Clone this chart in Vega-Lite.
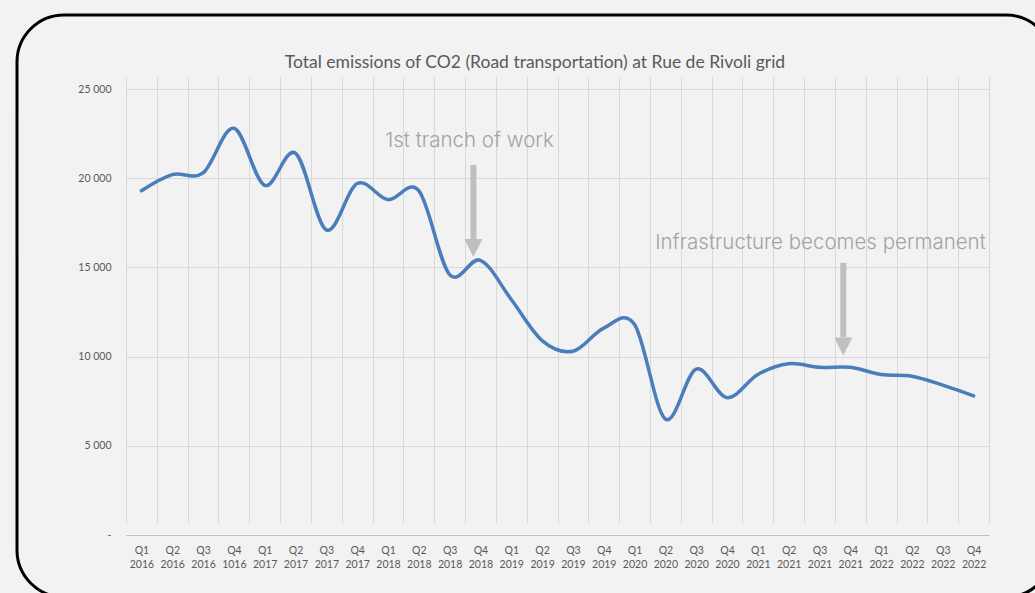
{
  "$schema": "https://vega.github.io/schema/vega-lite/v6.json",
  "width": 1036,
  "height": 582,
  "autosize": "none",
  "padding": {"left": 17, "top": 15, "right": 0, "bottom": 0},
  "background": "#f2f2f2",
  "config": {
    "view": {"stroke": "#000000", "strokeWidth": 3, "cornerRadius": 47, "fill": "#f2f2f2"},
    "font": "Lato"
  },
  "title": {
    "text": "Total emissions of CO2 (Road transportation) at Rue de Rivoli grid",
    "font": "Lato",
    "fontSize": 17.5,
    "fontWeight": "normal",
    "color": "#595959",
    "anchor": "middle",
    "baseline": "middle",
    "offset": -65
  },
  "layer": [
    {
      "data": {
        "values": [
          {"q": "Q1 2016", "v": 19300},
          {"q": "Q2 2016", "v": 20200},
          {"q": "Q3 2016", "v": 20300},
          {"q": "Q4 1016", "v": 22800},
          {"q": "Q1 2017", "v": 19600},
          {"q": "Q2 2017", "v": 21400},
          {"q": "Q3 2017", "v": 17100},
          {"q": "Q4 2017", "v": 19700},
          {"q": "Q1 2018", "v": 18800},
          {"q": "Q2 2018", "v": 19300},
          {"q": "Q3 2018", "v": 14600},
          {"q": "Q4 2018", "v": 15400},
          {"q": "Q1 2019", "v": 13200},
          {"q": "Q2 2019", "v": 10900},
          {"q": "Q3 2019", "v": 10300},
          {"q": "Q4 2019", "v": 11600},
          {"q": "Q1 2020", "v": 11800},
          {"q": "Q2 2020", "v": 6500},
          {"q": "Q3 2020", "v": 9300},
          {"q": "Q4 2020", "v": 7700},
          {"q": "Q1 2021", "v": 9000},
          {"q": "Q2 2021", "v": 9600},
          {"q": "Q3 2021", "v": 9400},
          {"q": "Q4 2021", "v": 9400},
          {"q": "Q1 2022", "v": 9000},
          {"q": "Q2 2022", "v": 8900},
          {"q": "Q3 2022", "v": 8400},
          {"q": "Q4 2022", "v": 7800}
        ]
      },
      "mark": {"type": "line", "interpolate": "cardinal", "strokeWidth": 3.5, "color": "#4a7ebb", "strokeCap": "round"},
      "encoding": {
        "x": {
          "field": "q",
          "type": "ordinal",
          "sort": null,
          "scale": {
            "type": "band",
            "paddingInner": 0,
            "paddingOuter": 0,
            "range": [109, 972],
            "domain": ["Q1 2016","Q2 2016","Q3 2016","Q4 1016","Q1 2017","Q2 2017","Q3 2017","Q4 2017","Q1 2018","Q2 2018","Q3 2018","Q4 2018","Q1 2019","Q2 2019","Q3 2019","Q4 2019","Q1 2020","Q2 2020","Q3 2020","Q4 2020","Q1 2021","Q2 2021","Q3 2021","Q4 2021","Q1 2022","Q2 2022","Q3 2022","Q4 2022"]
          },
          "axis": {
            "orient": "bottom",
            "offset": -62,
            "title": null,
            "domainColor": "#bfbfbf",
            "domainWidth": 1,
            "ticks": false,
            "tickBand": "extent",
            "grid": true,
            "gridColor": "#d9d9d9",
            "gridWidth": 1,
            "labelAngle": 0,
            "labelExpr": "split(datum.label, ' ')",
            "labelPadding": 10,
            "labelLineHeight": 14,
            "labelFont": "Lato",
            "labelFontSize": 10.5,
            "labelColor": "#595959",
            "labelBaseline": "top"
          }
        },
        "y": {
          "field": "v",
          "type": "quantitative",
          "scale": {"domain": [0, 25000], "range": [520, 74], "nice": false, "zero": true},
          "axis": {
            "orient": "left",
            "offset": -109,
            "title": null,
            "domain": false,
            "ticks": false,
            "values": [0, 5000, 10000, 15000, 20000, 25000],
            "grid": true,
            "gridColor": "#d9d9d9",
            "gridWidth": 1,
            "labelPadding": 15,
            "labelFont": "Lato",
            "labelFontSize": 10.5,
            "labelColor": "#595959",
            "labelExpr": "datum.value == 0 ? '-' : replace(format(datum.value, ','), ',', ' ')"
          }
        }
      }
    },
    {
      "data": {
        "values": [
          {"q": "Q4 2018", "top": 20740, "headTop": 16540, "head": 16090},
          {"q": "Q4 2021", "top": 15260, "headTop": 11080, "head": 10560}
        ]
      },
      "layer": [
        {
          "mark": {"type": "rule", "strokeWidth": 6, "color": "#bfbfbf", "xOffset": -7},
          "encoding": {
            "x": {"field": "q", "type": "ordinal", "sort": null},
            "y": {"field": "top", "type": "quantitative"},
            "y2": {"field": "headTop"}
          }
        },
        {
          "mark": {"type": "point", "shape": "M-1,-1L1,-1L0,1Z", "size": 324, "filled": true, "color": "#bfbfbf", "opacity": 1, "strokeWidth": 0, "xOffset": -7},
          "encoding": {
            "x": {"field": "q", "type": "ordinal", "sort": null},
            "y": {"field": "head", "type": "quantitative"}
          }
        }
      ]
    },
    {
      "data": {"values": [{"q": "Q4 2018", "y": 22100, "t": "1st tranch of work"}]},
      "mark": {"type": "text", "font": "Inter", "fontWeight": 300, "fontSize": 20.5, "color": "#a3a3a3", "baseline": "middle", "align": "center", "dx": -11},
      "encoding": {
        "x": {"field": "q", "type": "ordinal", "sort": null},
        "y": {"field": "y", "type": "quantitative"},
        "text": {"field": "t"}
      }
    },
    {
      "data": {"values": [{"q": "Q3 2021", "y": 16350, "t": "Infrastructure becomes permanent"}]},
      "mark": {"type": "text", "font": "Inter", "fontWeight": 300, "fontSize": 20.5, "color": "#a3a3a3", "baseline": "middle", "align": "center", "dx": 1},
      "encoding": {
        "x": {"field": "q", "type": "ordinal", "sort": null},
        "y": {"field": "y", "type": "quantitative"},
        "text": {"field": "t"}
      }
    }
  ]
}
